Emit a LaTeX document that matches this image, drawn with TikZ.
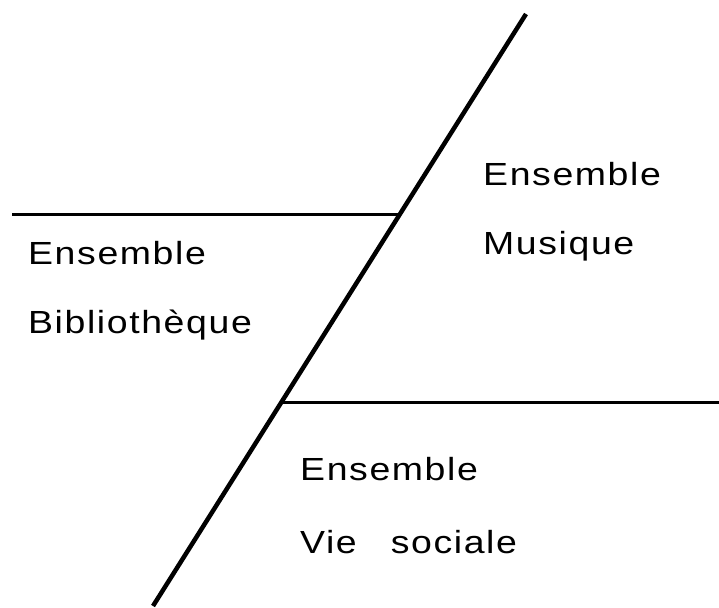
\documentclass[tikz,border=0pt]{standalone}
\usepackage{fontspec}
\newfontfamily\lblfont[FakeStretch=1.17,LetterSpace=5]{Liberation Sans}
\tikzset{
  lbl/.style={anchor=base west, inner sep=0pt, font=\lblfont\fontsize{32}{32}\selectfont},
  diag/.style={line width=4.5pt, line cap=butt},
  hline/.style={line width=3pt}
}
\begin{document}
\begin{tikzpicture}[x=1pt,y=-1pt]
\useasboundingbox (0,0) rectangle (719,607);
\coordinate (dtop) at (526,14);
\coordinate (dbot) at (153,606);
\coordinate (hlA) at (12,214);
\coordinate (hlB) at (400,214);
\coordinate (hrA) at (283,402);
\coordinate (hrB) at (719,402);
\draw[diag] (dtop) -- (dbot);
\draw[hline] (hlA) -- (hlB);
\draw[hline] (hrA) -- (hrB);
\node[lbl] (l1) at (28,264) {Ensemble};
\node[lbl] (l2) at (28,333) {Bibliothèque};
\node[lbl] (r1) at (483,185) {Ensemble};
\node[lbl] (r2) at (483,254) {Musique};
\node[lbl] (b1) at (300,480) {Ensemble};
\node[lbl] (b2) at (300,553) {Vie\hspace{34pt}sociale};
\end{tikzpicture}
\end{document}
